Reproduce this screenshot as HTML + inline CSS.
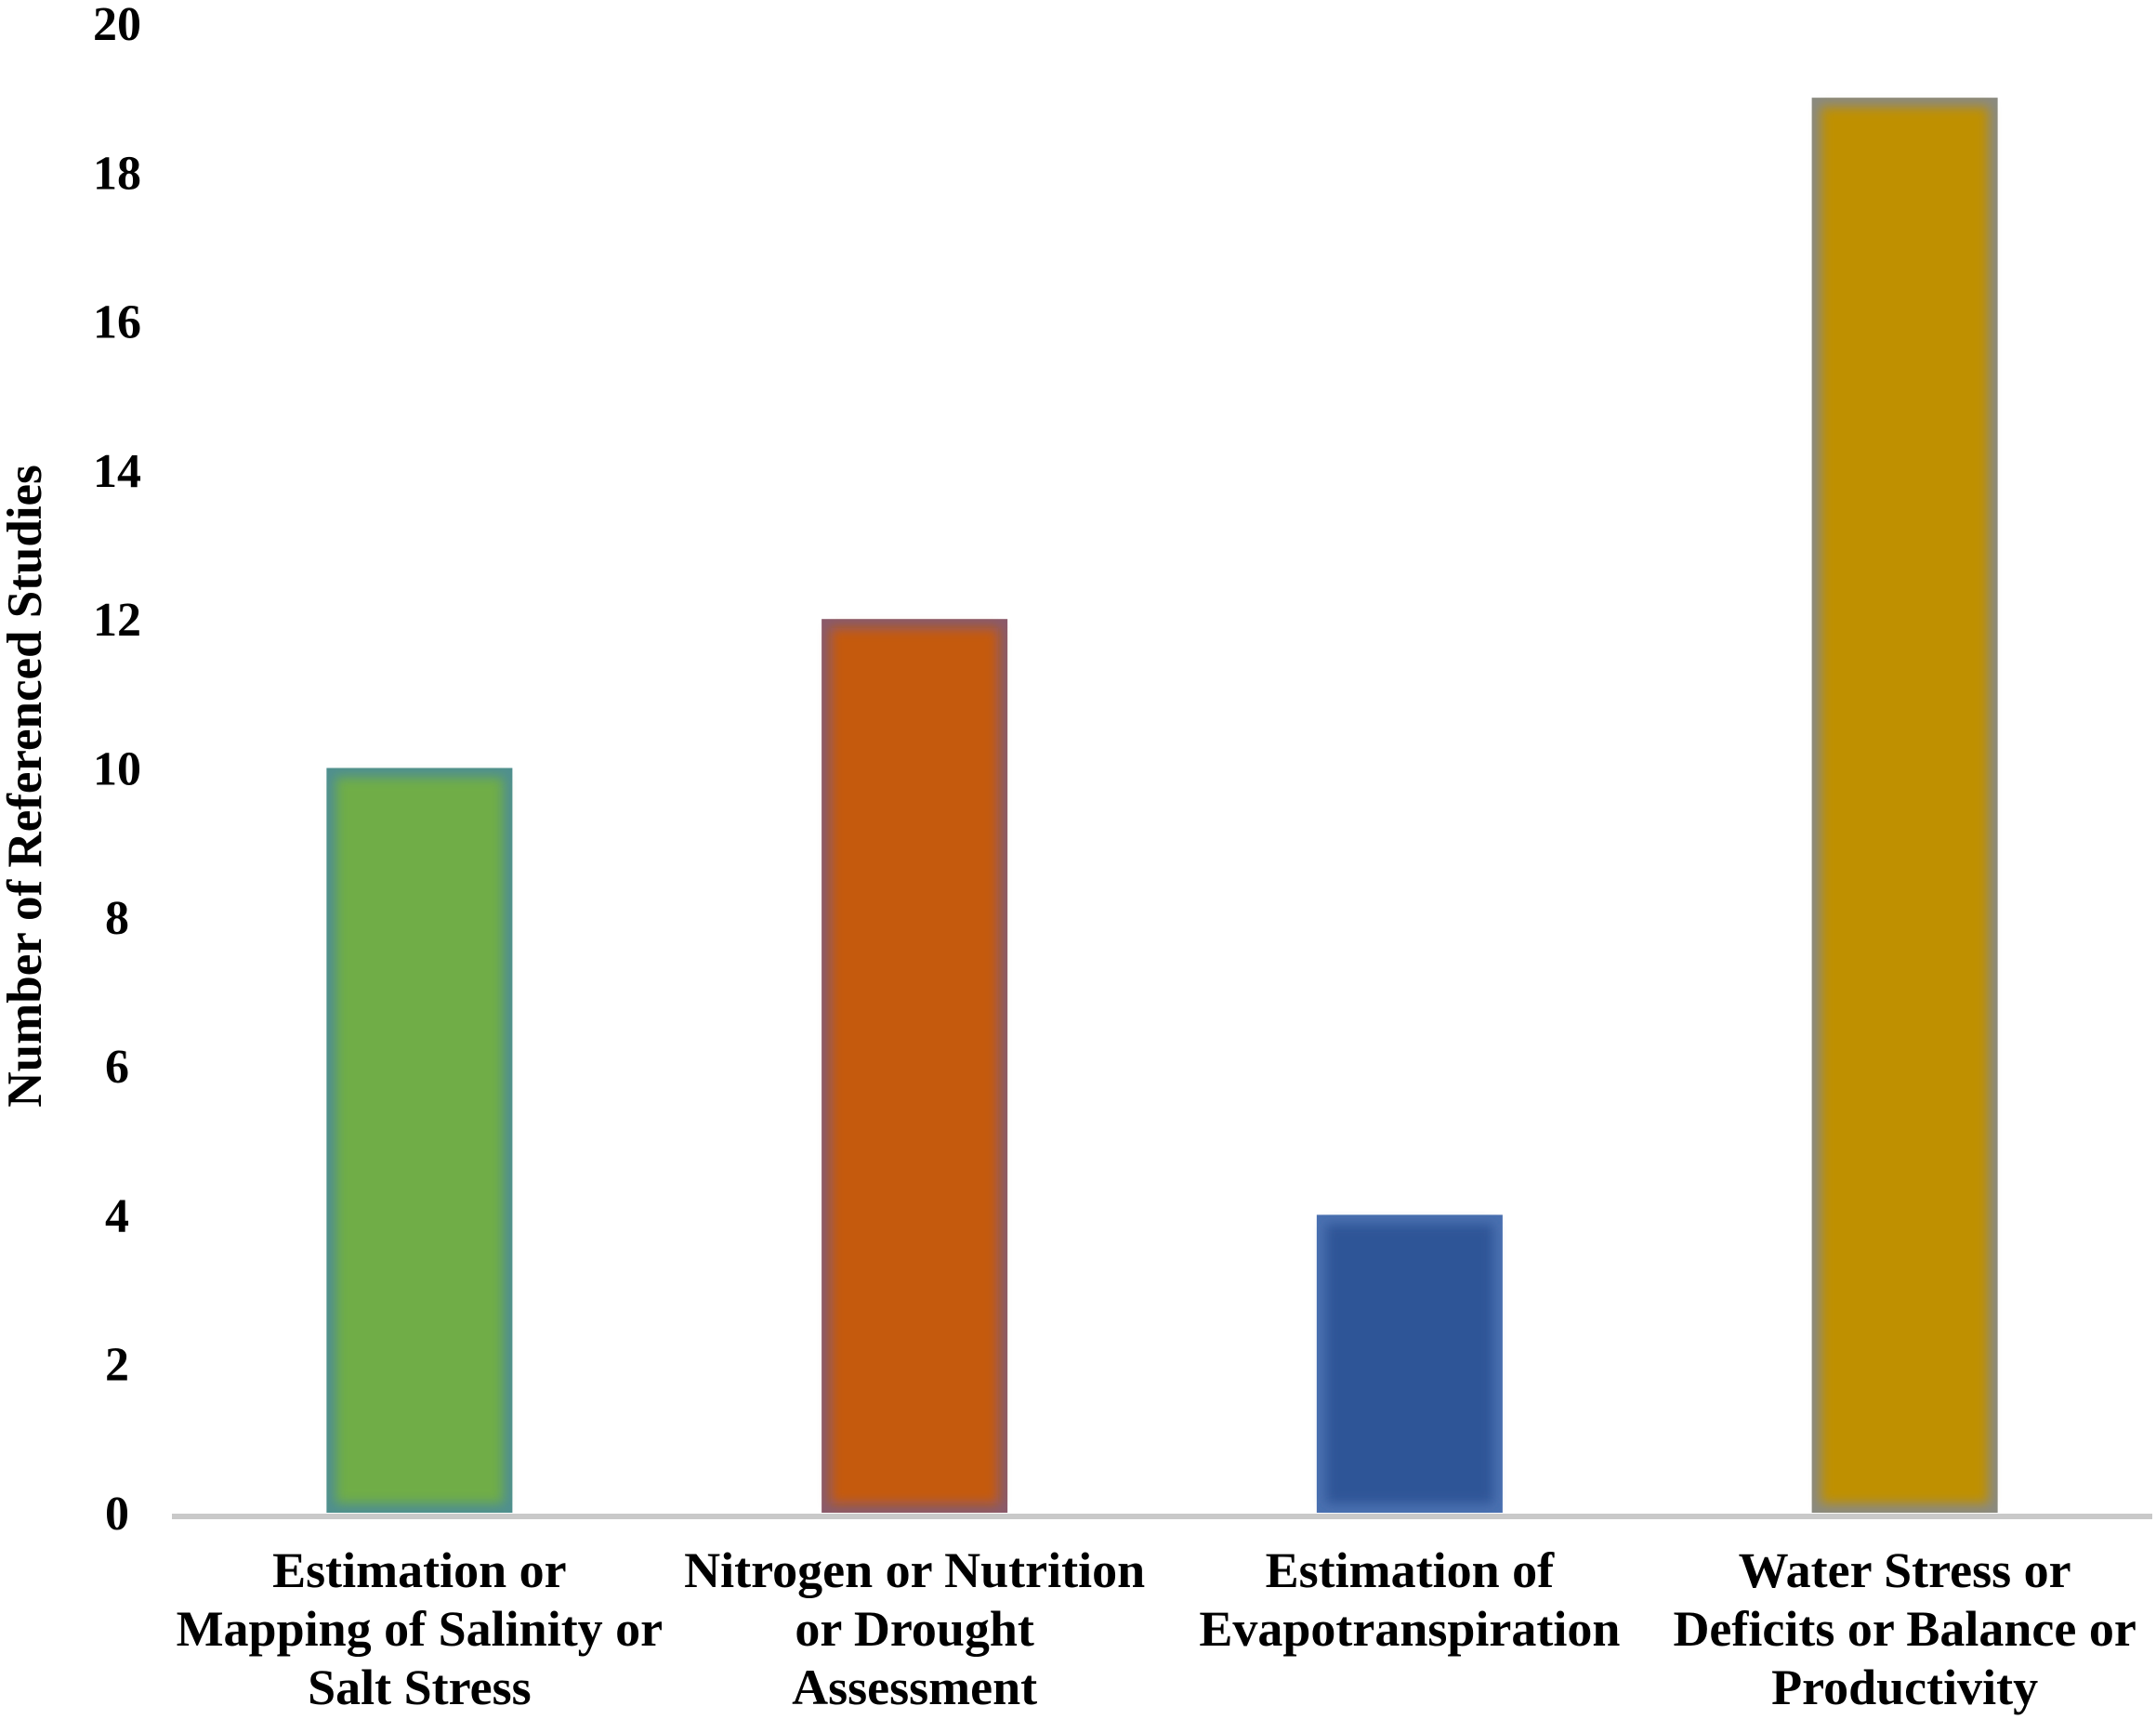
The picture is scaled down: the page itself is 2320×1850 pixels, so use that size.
<!DOCTYPE html>
<html><head><meta charset="utf-8"><style>
body{margin:0;background:#fff;}
svg{display:block;font-family:"Liberation Serif",serif;font-weight:bold;}
</style></head><body>
<svg width="2320" height="1850" viewBox="0 0 2320 1850">
<defs><filter id="soft" x="-10%" y="-10%" width="120%" height="120%"><feGaussianBlur stdDeviation="6"/></filter></defs>
<g id="plot"></g>
</svg>
<script>
const categories=[["Estimation or","Mapping of Salinity or","Salt Stress"],["Nitrogen or Nutrition","or Drought","Assessment"],["Estimation of","Evapotranspiration"],["Water Stress or","Deficits or Balance or","Productivity"]];
const values=[10,12,4,19];
const colors=["#70ad47","#c55a11","#2f5597","#bf9000"];
const edges=["#4f8f8f","#8a5a6a","#4a70b0","#8a8a80"];
const yTicks=[0,2,4,6,8,10,12,14,16,18,20];
const NS="http://www.w3.org/2000/svg";
const g=document.getElementById('plot');
const x0=185,x1=2316,yBase=1628,yTop=25,yMax=20;
const y=v=>yBase-(yBase-yTop)*v/yMax;
const band=(x1-x0)/categories.length;
const bw=200;
function mk(t,a){const e=document.createElementNS(NS,t);for(const k in a)e.setAttribute(k,a[k]);g.appendChild(e);return e;}
yTicks.forEach(t=>{const e=mk('text',{x:126,y:y(t)+18,'text-anchor':'middle','font-size':52});e.textContent=t;

});
values.forEach((v,i)=>{const cx=x0+band*(i+0.5);
const r1=mk('rect',{x:cx-bw/2,y:y(v),width:bw,height:yBase-y(v),fill:edges[i]});


const r=mk('rect',{x:cx-bw/2+10,y:y(v)+10,width:bw-20,height:yBase-y(v)-20,fill:colors[i],filter:'url(#soft)'});


categories[i].forEach((line,j)=>{const t=mk('text',{x:cx,y:1708+j*63,'text-anchor':'middle','font-size':54});t.textContent=line;

});
});
const ax=mk('rect',{x:x0,y:yBase+1,width:x1-x0,height:6,fill:'#c9c9c9'});


const yt=mk('text',{x:0,y:0,'text-anchor':'middle','font-size':53,transform:'translate(44,846) rotate(-90)'});
yt.textContent='Number of Referenced Studies';


</script>
</body></html>
